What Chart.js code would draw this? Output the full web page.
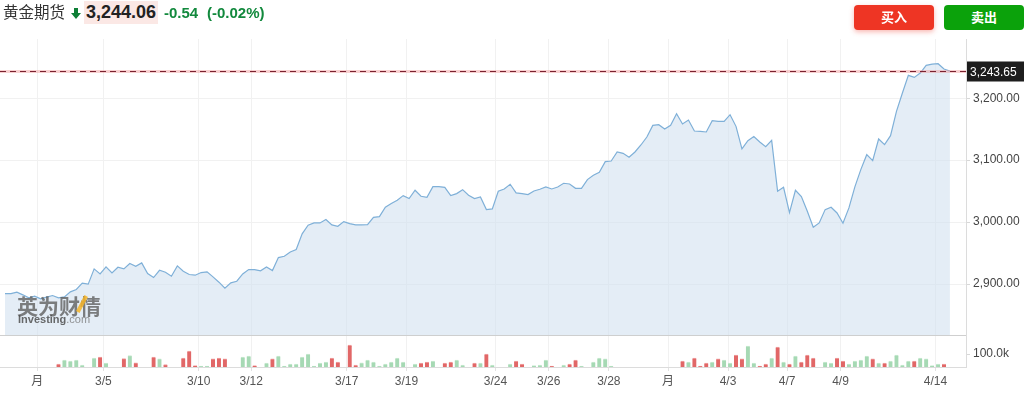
<!DOCTYPE html>
<html>
<head>
<meta charset="utf-8">
<script src="https://cdn.jsdelivr.net/npm/chart.js@4"></script>
<style>
  html, body { margin: 0; padding: 0; background: #fff; }
  body { width: 1025px; height: 397px; position: relative; overflow: hidden;
         font-family: 'Liberation Sans', Arial, 'Noto Sans CJK SC', sans-serif; }
  #chart { position: absolute; left: 0; top: 0; }
  .abs { position: absolute; white-space: nowrap; }
  .name { left: 3px; top: 3px; font-size: 15.5px; color: #333; line-height: 20px; }
  .arrow { left: 71px; top: 8px; }
  .last { left: 84px; top: 1px; width: 74px; height: 23px; background: #fbe8e5;
          font-weight: bold; font-size: 18px; color: #222; line-height: 23px; text-align: center; }
  .chg { top: 4px; font-weight: bold; font-size: 15px; color: #12893d; line-height: 18px; }
  .btn { top: 5px; width: 80px; height: 25px; border-radius: 4px; color: #fff;
         font-weight: bold; font-size: 13px; line-height: 25px; text-align: center; }
  .buy { left: 854px; background: #ee3524; box-shadow: 0 2px 5px rgba(238,53,36,0.35); }
  .sell { left: 944px; background: #0ba20b; }
  .wm1 { left: 17px; top: 290px; font-size: 21px; font-weight: bold; color: rgba(95,95,95,0.8); letter-spacing: 0; }
  .wm2 { left: 18px; top: 313px; font-size: 11px; font-weight: bold; color: rgba(80,80,80,0.85); }
  .wm2 span { font-weight: normal; color: rgba(120,120,120,0.8); }
  .slash { left: 80px; top: 295px; width: 4px; height: 18px; background: rgba(245,180,40,0.85); transform: rotate(28deg); }
</style>
</head>
<body>
<canvas id="chart" width="1025" height="397"></canvas>

<div class="abs name">黄金期货</div>
<svg class="abs arrow" width="10" height="11" viewBox="0 0 10 11">
  <polygon points="3,0 7,0 7,5 10,5 5,11 0,5 3,5" fill="#0e7f36"/>
</svg>
<div class="abs last">3,244.06</div>
<div class="abs chg" style="left:164px">-0.54</div>
<div class="abs chg" style="left:207px">(-0.02%)</div>
<div class="abs btn buy">买入</div>
<div class="abs btn sell">卖出</div>

<div class="abs wm1">英为财情</div>
<div class="abs slash"></div>
<div class="abs wm2">Investing<span>.com</span></div>

<script>
// x 轴刻度（以数据点序号为单位）
const tickLabels = ['月', '3/5', '3/10', '3/12', '3/17', '3/19', '3/24', '3/26', '3/28', '月', '4/3', '4/7', '4/9', '4/14'];
const tickIdx = [5.43, 16.54, 32.59, 41.44, 57.50, 67.56, 82.53, 91.49, 101.60, 111.56, 121.66, 131.59, 140.59, 156.57];

// 价格（每个点约 4 小时）
const price = [
  2884.7, 2884.7, 2886.9, 2882.6, 2877.7, 2880.4, 2876.1, 2878.8, 2881.5, 2877.7,
  2879.3, 2887.4, 2891.2, 2901.4, 2899.8, 2924.5, 2916.4, 2927.7, 2918.0, 2927.2,
  2924.5, 2933.1, 2928.8, 2934.2, 2917.0, 2910.5, 2922.3, 2919.1, 2912.7, 2929.3,
  2920.7, 2915.4, 2914.3, 2918.6, 2919.7, 2911.6, 2903.0, 2893.3, 2901.9, 2904.6,
  2916.4, 2923.4, 2923.4, 2921.3, 2927.7, 2921.8, 2942.8, 2944.9, 2951.9, 2955.7,
  2981.0, 2994.9, 2998.7, 2998.7, 3004.1, 2995.5, 2993.3, 3000.8, 2997.6, 2995.5,
  2995.5, 2996.0, 3007.8, 3008.9, 3024.0, 3029.9, 3035.3, 3042.8, 3038.0, 3051.4,
  3041.7, 3040.1, 3057.3, 3057.3, 3056.2, 3042.8, 3046.0, 3052.4, 3043.3, 3038.0,
  3040.6, 3020.2, 3021.3, 3049.8, 3053.5, 3061.1, 3047.1, 3046.0, 3044.4, 3050.3,
  3053.0, 3056.7, 3053.5, 3056.7, 3062.7, 3061.6, 3054.6, 3054.6, 3068.6, 3075.6,
  3080.4, 3097.6, 3098.7, 3113.2, 3111.0, 3104.6, 3113.2, 3124.5, 3137.4, 3156.2,
  3157.3, 3150.3, 3156.2, 3175.0, 3158.4, 3164.8, 3147.1, 3146.6, 3145.5, 3163.8,
  3162.7, 3162.7, 3173.4, 3154.6, 3118.1, 3131.5, 3138.0, 3129.3, 3121.8, 3132.0,
  3049.8, 3056.2, 3015.4, 3051.4, 3041.2, 3017.5, 2991.7, 2998.7, 3020.2, 3024.0,
  3014.8, 2998.2, 3022.9, 3056.8, 3084.7, 3108.9, 3099.2, 3134.2, 3125.0, 3139.6,
  3178.8, 3208.4, 3236.9, 3233.6, 3240.6, 3253.0, 3255.1, 3255.7, 3247.1, 3243.7
];

// 成交量（千），0 = 无数据
const volume = [
  0, 0, 0, 0, 0, 0, 0, 0, 0, 23,
  54, 46, 54, 15, 0, 69, 77, 31, 0, 0,
  64, 87, 33, 0, 0, 77, 62, 18, 0, 0,
  69, 123, 10, 8, 8, 62, 69, 62, 0, 0,
  77, 85, 10, 0, 31, 62, 85, 8, 23, 23,
  77, 100, 8, 31, 38, 69, 38, 0, 169, 15,
  33, 54, 38, 8, 23, 38, 69, 38, 0, 23,
  31, 38, 46, 0, 31, 38, 54, 15, 0, 31,
  31, 100, 15, 0, 0, 23, 46, 23, 0, 10,
  15, 54, 8, 0, 15, 23, 54, 8, 0, 38,
  69, 62, 8, 0, 0, 0, 0, 0, 0, 0,
  0, 0, 0, 0, 46, 38, 69, 8, 31, 38,
  62, 54, 31, 92, 62, 162, 31, 8, 23, 69,
  154, 38, 23, 85, 38, 92, 69, 0, 38, 31,
  69, 46, 23, 46, 54, 85, 62, 31, 31, 46,
  92, 15, 46, 46, 69, 62, 10, 23, 23, 0
];
// 1 = 绿色（涨），0 = 红色（跌）
const volUp = [
  0, 0, 0, 0, 0, 0, 0, 0, 0, 0,
  1, 1, 1, 1, 0, 1, 0, 1, 0, 0,
  0, 1, 0, 0, 0, 0, 1, 0, 0, 0,
  0, 0, 0, 1, 1, 0, 0, 0, 0, 0,
  1, 1, 0, 0, 1, 0, 1, 1, 1, 1,
  1, 1, 1, 1, 1, 0, 0, 0, 0, 0,
  1, 1, 1, 1, 1, 1, 1, 1, 0, 1,
  0, 0, 1, 0, 0, 0, 1, 1, 0, 0,
  1, 0, 1, 0, 0, 1, 0, 0, 0, 1,
  1, 1, 0, 0, 1, 0, 0, 1, 0, 1,
  1, 1, 1, 0, 0, 0, 0, 0, 0, 0,
  0, 0, 0, 0, 0, 1, 0, 0, 0, 1,
  0, 1, 1, 0, 0, 1, 1, 0, 0, 1,
  0, 1, 0, 1, 0, 0, 0, 0, 1, 1,
  0, 0, 1, 1, 1, 1, 0, 1, 0, 1,
  1, 1, 1, 0, 1, 1, 1, 1, 0, 0
];

const priceTicks = [2900, 3000, 3100, 3200];
const lastPrice = 3243.65;

const linePoints = price.map((p, i) => ({ x: i, y: p }));
const barPoints = [];
const barColors = [];
const barCaps = [];
volume.forEach((v, i) => {
  if (v > 0) {
    barPoints.push({ x: i, y: v });
    barColors.push(volUp[i] ? '#a6d9b4' : '#e16767');
    barCaps.push(volUp[i] ? '#c9ead2' : '#f0a3a3');
  }
});

Chart.defaults.font.family = "'Liberation Sans', Arial, 'Noto Sans CJK SC', sans-serif";
Chart.defaults.font.size = 12;

// 分隔线、最新价虚线和价格标签
const overlay = {
  id: 'overlay',
  beforeDatasetsDraw(chart) {
    const { ctx, chartArea } = chart;
    const yP = chart.scales.yP;
    ctx.save();
    ctx.strokeStyle = '#cfcfcf';
    ctx.lineWidth = 1;
    ctx.beginPath();
    ctx.moveTo(chartArea.left, Math.round(yP.bottom) + 0.5);
    ctx.lineTo(chartArea.right, Math.round(yP.bottom) + 0.5);
    ctx.stroke();
    ctx.restore();
  },
  afterDatasetsDraw(chart) {
    const { ctx, chartArea } = chart;
    const y = Math.round(chart.scales.yP.getPixelForValue(lastPrice)) + 0.5;
    ctx.save();
    ctx.strokeStyle = 'rgba(240,150,150,0.45)';
    ctx.lineWidth = 3;
    ctx.beginPath();
    ctx.moveTo(chartArea.left, y);
    ctx.lineTo(chartArea.right, y);
    ctx.stroke();
    ctx.strokeStyle = '#7a2230';
    ctx.lineWidth = 1;
    ctx.setLineDash([6, 4]);
    ctx.beginPath();
    ctx.moveTo(chartArea.left, y);
    ctx.lineTo(chartArea.right, y);
    ctx.stroke();
    ctx.setLineDash([]);
    ctx.fillStyle = '#1d1d1d';
    ctx.fillRect(chartArea.right + 1, y - 10, 57, 20);
    ctx.fillStyle = '#fff';
    ctx.font = "12px 'Liberation Sans', Arial";
    ctx.textBaseline = 'middle';
    ctx.fillText(lastPrice.toLocaleString('en-US', { minimumFractionDigits: 2 }), chartArea.right + 4, y + 1);
    ctx.restore();
  }
};

const yWidth = 59;

new Chart(document.getElementById('chart'), {
  data: {
    datasets: [
      {
        type: 'line',
        data: linePoints,
        yAxisID: 'yP',
        borderColor: '#7fb0d8',
        borderWidth: 1.2,
        backgroundColor: 'rgba(205,222,238,0.55)',
        fill: 'start',
        pointRadius: 0,
        tension: 0
      },
      {
        type: 'bar',
        data: barPoints,
        yAxisID: 'yV',
        backgroundColor: barColors,
        borderColor: barCaps,
        borderWidth: { top: 1, left: 0, right: 0, bottom: 0 },
        borderSkipped: 'bottom',
        barThickness: 4
      }
    ]
  },
  options: {
    responsive: false,
    animation: false,
    devicePixelRatio: 1,
    layout: { padding: { top: 39, left: 0, right: 0, bottom: 0 } },
    plugins: { legend: { display: false }, tooltip: { enabled: false } },
    scales: {
      x: {
        type: 'linear',
        min: -0.841,
        max: 161.7,
        offset: false,
        grid: { offset: false, color: '#f1f1f1', tickColor: '#e2e2e2', tickLength: 4 },
        border: { color: '#dcdcdc' },
        afterBuildTicks: s => { s.ticks = tickIdx.map(v => ({ value: v })); },
        afterFit: s => { s.height = 30; },
        ticks: {
          autoSkip: false,
          maxRotation: 0,
          padding: 3,
          color: '#555',
          font: { size: 12 },
          callback: (v, i) => tickLabels[i]
        }
      },
      yP: {
        type: 'linear',
        position: 'right',
        stack: 'panes',
        stackWeight: 296.5,
        min: 2817.4,
        max: 3295.6,
        grid: { color: '#f1f1f1', tickColor: '#d8d8d8', tickLength: 4 },
        border: { color: '#dcdcdc' },
        afterBuildTicks: s => { s.ticks = priceTicks.map(v => ({ value: v })); },
        afterFit: s => { s.width = yWidth; },
        ticks: {
          padding: 3,
          color: '#444',
          font: { size: 12 },
          callback: v => v.toLocaleString('en-US', { minimumFractionDigits: 2, maximumFractionDigits: 2 })
        }
      },
      yV: {
        type: 'linear',
        position: 'right',
        stack: 'panes',
        stackWeight: 31.8,
        min: 0,
        max: 244.6,
        grid: { drawOnChartArea: false, tickColor: '#d8d8d8', tickLength: 4 },
        border: { color: '#dcdcdc' },
        afterBuildTicks: s => { s.ticks = [{ value: 100 }]; },
        afterFit: s => { s.width = yWidth; },
        ticks: {
          padding: 3,
          color: '#444',
          font: { size: 12 },
          callback: v => v.toFixed(1) + 'k'
        }
      }
    }
  },
  plugins: [overlay]
});
</script>
</body>
</html>
